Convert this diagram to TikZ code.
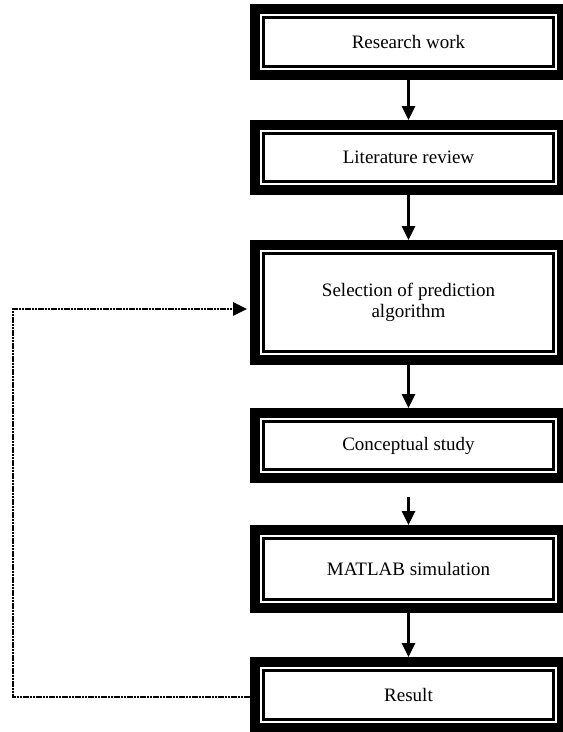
\documentclass[tikz,border=0pt]{standalone}
\usepackage{fontspec}
\setmainfont{Liberation Serif}
\usetikzlibrary{arrows.meta,calc}
\tikzset{
  stagebox/.style={draw, line width=10pt, rectangle, minimum width=307pt, inner sep=0pt,
    align=center, font=\fontsize{19}{21}\selectfont},
  innerframe/.style={draw, line width=2.8pt},
  flow/.style={line width=2.6pt, -{Triangle[width=13pt,length=14pt]}},
  feedback/.style={line width=2.8pt, dash pattern=on 6pt off 1pt on 2pt off 1pt on 2pt off 1pt,
    -{Triangle[width=13pt,length=14pt]}}
}
\begin{document}
\begin{tikzpicture}[x=1pt,y=1pt]
\useasboundingbox (0,0) rectangle (563,-732);
\fill[white] (0,0) rectangle (563,-732);
\node[stagebox, minimum height=66pt] (b1) at (408.5,-42) {Research work};
\node[stagebox, minimum height=65pt] (b2) at (408.5,-157.5) {Literature review};
\node[stagebox, minimum height=115pt] (b3) at (408.5,-302.5) {Selection of prediction\\algorithm};
\node[stagebox, minimum height=65pt] (b4) at (408.5,-445.5) {Conceptual study};
\node[stagebox, minimum height=78pt] (b5) at (408.5,-569) {MATLAB simulation};
\node[stagebox, minimum height=66pt] (b6) at (408.5,-695) {Result};
\foreach \bx in {b1,b2,b3,b4,b5,b6}
  \draw[innerframe] ($(\bx.north west)+(13.5pt,-13.5pt)$) rectangle ($(\bx.south east)+(-13.5pt,13.5pt)$);
\draw[flow, shorten <=-8pt] (b1) -- (b2);
\draw[flow] (b2.south) -- (b3.north);
\draw[flow] (b3.south) -- (b4.north);
\draw[flow, shorten <=14pt] (b4.south) -- (b5.north);
\draw[flow] (b5.south) -- (b6.north);
\coordinate (c1) at (13,-697);
\coordinate (c2) at (13,-309);
\draw[feedback, shorten >=3pt] (b6.west |- c1) -- (c1) -- (c2) -- (b3.west |- c2);
\end{tikzpicture}
\end{document}
